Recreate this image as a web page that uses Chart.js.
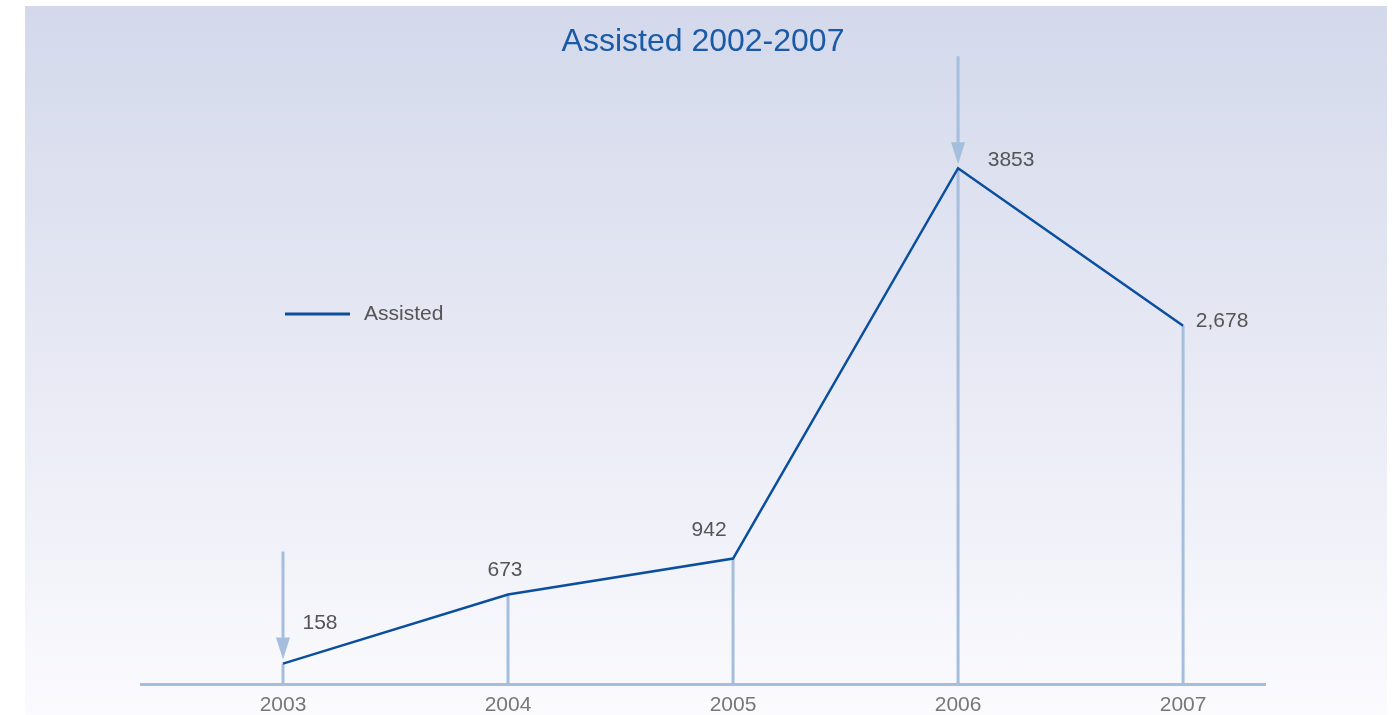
<!DOCTYPE html>
<html>
<head>
<meta charset="utf-8">
<script src="https://cdn.jsdelivr.net/npm/chart.js@4"></script>
<style>
  html, body { margin: 0; padding: 0; background: #fff; }
  #wrap { position: relative; width: 1396px; height: 715px; overflow: hidden; }
  #panel { position: absolute; left: 25px; top: 6px; width: 1362px; height: 709px;
           background: linear-gradient(#d3d9eb 0%, #e5e7f3 45%, #fbfbfe 100%); }
  #chart { position: absolute; left: 0; top: 0; }
</style>
</head>
<body>
<div id="wrap">
  <div id="panel"></div>
  <canvas id="chart" width="1396" height="726"></canvas>
</div>
<script>
const years = [2003, 2004, 2005, 2006, 2007];
const assisted = [158, 673, 942, 3853, 2678];
const valueLabels = ['158', '673', '942', '3853', '2,678'];
const arrowYears = [2003, 2006];

const LINE = '#0a4f9e';
const DROP = '#a6bedd';
const TEXT = '#555';
const FONT = '"Liberation Sans", Arial, sans-serif';

// label placement relative to its point (px)
const labelOffsets = [[37, -40], [-3, -24], [-24, -28], [53, -8], [39, -5]];

const decor = {
  id: 'decor',
  beforeDatasetsDraw(chart) {
    const { ctx, scales: { x, y } } = chart;
    const base = y.getPixelForValue(0);
    ctx.save();
    ctx.strokeStyle = DROP;
    ctx.fillStyle = DROP;
    ctx.lineWidth = 3;
    years.forEach((yr, i) => {
      const px = x.getPixelForValue(yr);
      const py = y.getPixelForValue(assisted[i]);
      ctx.beginPath();
      ctx.moveTo(px, base);
      ctx.lineTo(px, py);
      ctx.stroke();
      if (arrowYears.includes(yr)) {
        const tip = py - 4;
        ctx.beginPath();
        ctx.moveTo(px, py - 112);
        ctx.lineTo(px, tip - 20);
        ctx.stroke();
        ctx.beginPath();
        ctx.moveTo(px, tip);
        ctx.lineTo(px - 7, tip - 22);
        ctx.lineTo(px + 7, tip - 22);
        ctx.closePath();
        ctx.fill();
      }
    });
    ctx.restore();
  },
  afterDatasetsDraw(chart) {
    const { ctx, scales: { x, y } } = chart;
    ctx.save();
    ctx.font = '21px ' + FONT;
    ctx.fillStyle = TEXT;
    ctx.textAlign = 'center';
    ctx.textBaseline = 'middle';
    years.forEach((yr, i) => {
      const [dx, dy] = labelOffsets[i];
      ctx.fillText(valueLabels[i], x.getPixelForValue(yr) + dx, y.getPixelForValue(assisted[i]) + dy);
    });
    // legend
    ctx.strokeStyle = LINE;
    ctx.lineWidth = 3;
    ctx.beginPath();
    ctx.moveTo(285, 314);
    ctx.lineTo(350, 314);
    ctx.stroke();
    ctx.textAlign = 'left';
    ctx.fillText(chart.data.datasets[0].label, 364, 314);
    ctx.restore();
  }
};

new Chart(document.getElementById('chart'), {
  type: 'line',
  data: {
    datasets: [{
      label: 'Assisted',
      data: years.map((yr, i) => ({ x: yr, y: assisted[i] })),
      borderColor: LINE,
      borderWidth: 2.5,
      pointRadius: 0,
      tension: 0,
      clip: false,
    }]
  },
  options: {
    responsive: false,
    animation: false,
    layout: { padding: { left: 141, right: 131, top: 0, bottom: 0 } },
    plugins: {
      legend: { display: false },
      tooltip: { enabled: false },
      title: {
        display: true,
        text: 'Assisted 2002-2007',
        color: '#1a5aa6',
        font: { family: FONT, size: 32, weight: 'normal', lineHeight: 1.2 },
        padding: { top: 23, bottom: 10 },
      },
    },
    scales: {
      x: {
        type: 'linear',
        min: 2002.369,
        max: 2007.364,
        afterBuildTicks: s => { s.ticks = years.map(v => ({ value: v })); },
        grid: { display: false, drawTicks: false },
        border: { display: true, color: DROP, width: 3 },
        ticks: {
          color: '#777',
          padding: 8,
          font: { family: FONT, size: 21, lineHeight: 1.2 },
          callback: v => String(v),
        },
      },
      y: { display: false, min: 0, max: 4575 },
    },
  },
  plugins: [decor],
});
</script>
</body>
</html>
